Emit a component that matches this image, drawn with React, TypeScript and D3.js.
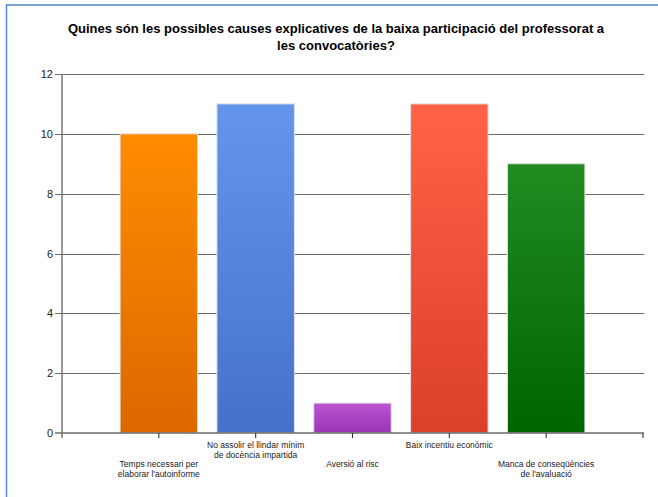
import React, { useEffect, useRef } from 'react';
import * as d3 from 'd3';

// dades del gràfic
const titleLines = [
  'Quines són les possibles causes explicatives de la baixa participació del professorat a',
  'les convocatòries?',
];
const categories = [
  ['Temps necessari per', "elaborar l'autoinforme"],
  ['No assolir el llindar mínim', 'de docència impartida'],
  ['Aversió al risc'],
  ['Baix incentiu econòmic'],
  ['Manca de conseqüències', "de l'avaluació"],
];
const values = [10, 11, 1, 11, 9];
const yTicks = [0, 2, 4, 6, 8, 10, 12];
const topColors = ['#ff8c00', '#6495ed', '#ba55d3', '#ff6347', '#228b22'];
const bottomColors = ['#dc6800', '#4472c8', '#9a32b4', '#da4028', '#006400'];

const FONT = '"Liberation Sans", Arial, sans-serif';

const App: React.FC = () => {
  const svgRef = useRef<SVGSVGElement>(null);

  useEffect(() => {
    if (!svgRef.current) return;
    const svg = d3.select(svgRef.current);
    svg.selectAll('*').remove();

    const width = 658, height = 497;
    svg.attr('width', width).attr('height', height);

    // marc blau (només es veu a dalt i a l'esquerra)
    svg.append('rect')
      .attr('x', 6.5).attr('y', 5).attr('width', 700).attr('height', 600)
      .attr('fill', '#fff').attr('stroke', '#5a8ccc').attr('stroke-width', 1.6);

    // títol
    svg.append('g').selectAll('text').data(titleLines).enter().append('text')
      .attr('x', 336).attr('y', (d, i) => 33 + i * 17)
      .attr('text-anchor', 'middle')
      .style('font-family', FONT).style('font-weight', 'bold').style('font-size', '13px')
      .attr('fill', '#000')
      .text(d => d);

    const left = 62, right = 643, top = 74, bottom = 433;
    // l'eix x és lineal 0..6, les categories van a 1..5
    const x = d3.scaleLinear().domain([0, categories.length + 1]).range([left, right]);
    const y = d3.scaleLinear().domain([0, 12]).range([bottom, top]);
    const step = x(1) - x(0);
    const barW = step * 0.8;

    // degradats per a cada barra
    const defs = svg.append('defs');
    values.forEach((_, i) => {
      const g = defs.append('linearGradient').attr('id', `grad${i}`)
        .attr('x1', 0).attr('y1', 0).attr('x2', 0).attr('y2', 1);
      g.append('stop').attr('offset', '0%').attr('stop-color', topColors[i]);
      g.append('stop').attr('offset', '100%').attr('stop-color', bottomColors[i]);
    });

    // línies de quadrícula
    const grid = svg.append('g');
    grid.selectAll('line').data(yTicks.filter(t => t > 0)).enter().append('line')
      .attr('x1', left - 7).attr('x2', right + 1)
      .attr('y1', d => Math.round(y(d)) + 0.5).attr('y2', d => Math.round(y(d)) + 0.5)
      .attr('stroke', '#6a6a6a').attr('stroke-width', 1.2);

    // barres
    svg.append('g').selectAll('rect').data(values).enter().append('rect')
      .attr('x', (d, i) => x(i + 1) - barW / 2)
      .attr('y', d => y(d))
      .attr('width', barW)
      .attr('height', d => bottom - y(d))
      .attr('fill', (d, i) => `url(#grad${i})`)
      .attr('stroke', '#e0e0e0').attr('stroke-width', 1);

    // eixos
    const axis = svg.append('g').attr('stroke', '#6e6e6e').attr('stroke-width', 1.4);
    axis.append('line').attr('x1', left).attr('x2', left).attr('y1', top).attr('y2', bottom + 5);
    axis.append('line').attr('x1', left - 7).attr('x2', right + 1).attr('y1', bottom).attr('y2', bottom);
    axis.selectAll('line.xt').data(d3.range(1, categories.length + 2)).enter().append('line')
      .attr('class', 'xt')
      .attr('x1', d => x(d)).attr('x2', d => x(d))
      .attr('y1', bottom).attr('y2', bottom + 5)
      .attr('stroke', '#333').attr('stroke-width', 1.1);

    // etiquetes de l'eix y
    svg.append('g').selectAll('text').data(yTicks).enter().append('text')
      .attr('x', 53).attr('y', d => y(d) + 4)
      .attr('text-anchor', 'end')
      .style('font-family', FONT).style('font-size', '11px')
      .attr('fill', '#222')
      .text(d => d);

    // etiquetes de categories, esglaonades
    const labels = svg.append('g');
    categories.forEach((lines, i) => {
      const y0 = i % 2 === 1 ? 448 : 467;
      const t = labels.append('text')
        .attr('text-anchor', 'middle')
        .style('font-family', FONT).style('font-size', '8.5px')
        .attr('fill', '#222');
      lines.forEach((l, j) => {
        t.append('tspan').attr('x', x(i + 1)).attr('y', y0 + j * 9.5).text(l);
      });
    });
  }, []);

  return (
    <svg ref={svgRef} style={{ position: 'absolute', left: 0, top: 0, display: 'block' }}></svg>
  );
};

export default App;
